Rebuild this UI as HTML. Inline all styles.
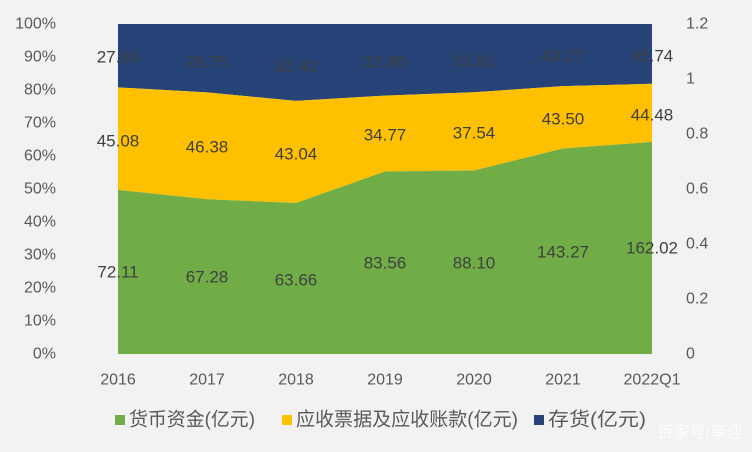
<!DOCTYPE html>
<html><head><meta charset="utf-8"><style>
body{margin:0;background:#f2f2f2;}
svg{display:block;font-family:"Liberation Sans","Noto Sans CJK SC",sans-serif;}
</style></head><body>
<svg width="752" height="452" viewBox="0 0 752 452">
<rect width="752" height="452" fill="#f2f2f2"/>
<polygon fill="#264478" points="118,24 652,24 652,83.8 563,86.1 474,92.3 385,95.6 296,100.9 207,92.4 118,87.4"/>
<polygon fill="#ffc000" points="118,87.4 207,92.4 296,100.9 385,95.6 474,92.3 563,86.1 652,83.8 652,142 563,148.5 474,170.5 385,171.5 296,203 207,199.2 118,189.9"/>
<polygon fill="#70ad47" points="118,189.9 207,199.2 296,203 385,171.5 474,170.5 563,148.5 652,142 652,354 118,354"/>
<g font-size="17" fill="#404040" text-anchor="middle" dominant-baseline="central">
<text x="118" y="57">27.86</text><text x="207" y="62">29.75</text><text x="296" y="66">32.42</text><text x="385" y="62">32.80</text><text x="474" y="61">32.81</text><text x="563" y="56">43.27</text><text x="652" y="56">45.74</text>
<text x="118" y="141">45.08</text><text x="207" y="147">46.38</text><text x="296" y="154">43.04</text><text x="385" y="135">34.77</text><text x="474" y="133">37.54</text><text x="563" y="119">43.50</text><text x="652" y="115">44.48</text>
<text x="118" y="272">72.11</text><text x="207" y="277">67.28</text><text x="296" y="280">63.66</text><text x="385" y="263">83.56</text><text x="474" y="263">88.10</text><text x="563" y="252">143.27</text><text x="652" y="248">162.02</text>
</g>
<g font-size="16" fill="#595959" text-anchor="end" dominant-baseline="central">
<text x="56" y="24">100%</text><text x="56" y="57">90%</text><text x="56" y="90">80%</text><text x="56" y="123">70%</text><text x="56" y="156">60%</text><text x="56" y="189">50%</text><text x="56" y="222">40%</text><text x="56" y="255">30%</text><text x="56" y="288">20%</text><text x="56" y="321">10%</text><text x="56" y="354">0%</text>
</g>
<g font-size="16" fill="#595959" text-anchor="start" dominant-baseline="central">
<text x="686" y="24">1.2</text><text x="686" y="79">1</text><text x="686" y="134">0.8</text><text x="686" y="189">0.6</text><text x="686" y="244">0.4</text><text x="686" y="299">0.2</text><text x="686" y="354">0</text>
</g>
<g font-size="16" fill="#595959" text-anchor="middle" dominant-baseline="central">
<text x="118" y="380">2016</text><text x="207" y="380">2017</text><text x="296" y="380">2018</text><text x="385" y="380">2019</text><text x="474" y="380">2020</text><text x="563" y="380">2021</text><text x="652" y="380">2022Q1</text>
</g>
<g font-size="19" fill="#595959" dominant-baseline="central">
<rect x="115" y="415" width="10" height="10" fill="#70ad47"/><text x="129" y="420" textLength="126" lengthAdjust="spacingAndGlyphs">货币资金(亿元)</text>
<rect x="282" y="415" width="10" height="10" fill="#ffc000"/><text x="296" y="420" textLength="222" lengthAdjust="spacingAndGlyphs">应收票据及应收账款(亿元)</text>
<rect x="534" y="415" width="10" height="10" fill="#264478"/><text x="548" y="420" textLength="98" lengthAdjust="spacingAndGlyphs">存货(亿元)</text>
</g>
<text x="742" y="433" font-size="16" fill="#ffffff" fill-opacity="0.85" text-anchor="end" dominant-baseline="central">百家号/享迎</text>
</svg>
</body></html>
